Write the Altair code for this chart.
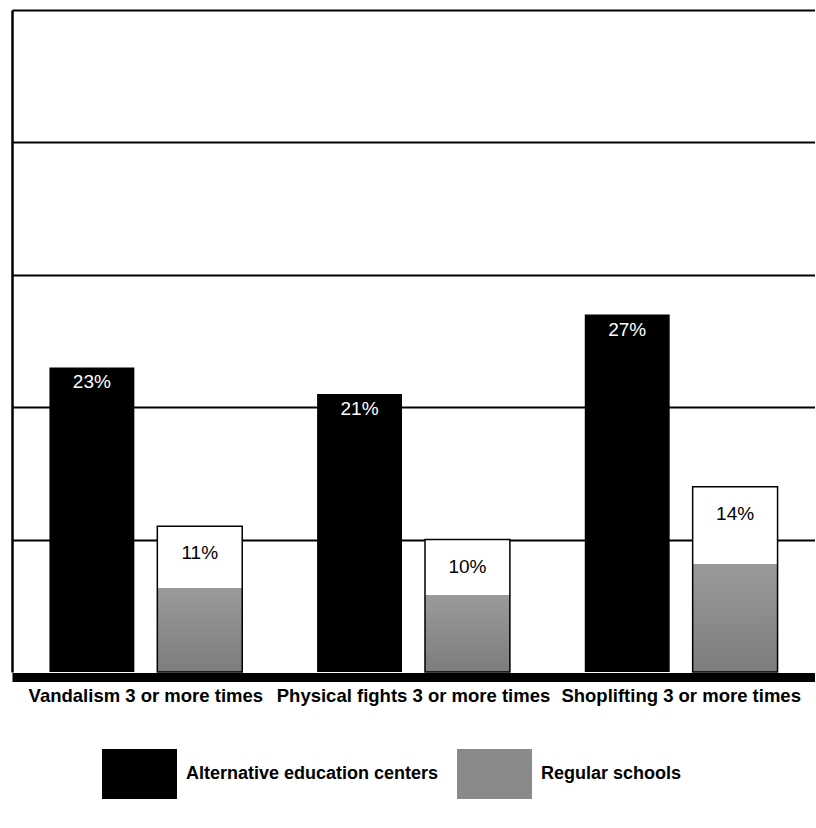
import altair as alt
import pandas as pd

categories = ["Vandalism 3 or more times", "Physical fights 3 or more times", "Shoplifting 3 or more times"]
series = ["Alternative education centers", "Regular schools"]
alt_values = [23, 21, 27]
reg_values = [11, 10, 14]

rows = []
for c, a, r in zip(categories, alt_values, reg_values):
    rows.append({"category": c, "series": series[0], "value": a, "label": f"{a}%"})
    rows.append({"category": c, "series": series[1], "value": r, "label": f"{r}%"})
df = pd.DataFrame(rows)

FONT = "Liberation Sans"

x_enc = alt.X("category:N", sort=categories, title=None,
              scale=alt.Scale(paddingInner=0, paddingOuter=0),
              axis=alt.Axis(labelAngle=0, ticks=False, domain=True, domainWidth=9,
                            domainColor="black", offset=5, labelPadding=9,
                            labelFont=FONT, labelFontSize=18.5, labelFontWeight="bold",
                            labelColor="black", labelLimit=0, labelOverlap=False))
xoff = alt.XOffset("series:N", sort=series,
                   scale=alt.Scale(domain=series, paddingInner=0.213, paddingOuter=0.347))
y_enc = alt.Y("value:Q", title=None,
              scale=alt.Scale(domain=[0, 50], nice=False, zero=True),
              axis=alt.Axis(values=[10, 20, 30, 40, 50], labels=False, ticks=False,
                            grid=True, gridColor="black", gridWidth=2, gridOpacity=1,
                            domain=True, domainColor="black", domainWidth=2.5))

base = alt.Chart(df)

bars = base.mark_bar().encode(
    x=x_enc, xOffset=xoff, y=y_enc,
    color=alt.Color("series:N", sort=series, title=None,
                    scale=alt.Scale(domain=series, range=["#000000", "#8a8a8a"]),
                    legend=alt.Legend(orient="none", legendX=102.5, legendY=739,
                                      direction="horizontal",
                                      symbolType="M-1.5,-1L1.5,-1L1.5,1L-1.5,1Z",
                                      symbolSize=2500, symbolStrokeWidth=0,
                                      labelOffset=21.5, columnPadding=18,
                                      labelFont=FONT, labelFontSize=18,
                                      labelFontWeight="bold", labelColor="black",
                                      labelLimit=0))
)

grad = {"gradient": "linear", "x1": 0, "x2": 0, "y1": 0, "y2": 1,
        "stops": [{"offset": 0, "color": "white"},
                  {"offset": 0.42, "color": "white"},
                  {"offset": 0.42, "color": "#9a9a9a"},
                  {"offset": 1, "color": "#7d7d7d"}]}

reg_bars = base.transform_filter(alt.datum.series == series[1]).mark_bar(
    fill=grad, stroke="black", strokeWidth=1.5
).encode(x=x_enc, xOffset=xoff, y=y_enc)

alt_text = base.transform_filter(alt.datum.series == series[0]).mark_text(
    baseline="top", dy=6, color="white", font=FONT, fontSize=19
).encode(x=x_enc, xOffset=xoff, y=y_enc, text="label:N")

reg_text = base.transform_filter(alt.datum.series == series[1]).mark_text(
    baseline="top", dy=18, color="black", font=FONT, fontSize=19
).encode(x=x_enc, xOffset=xoff, y=y_enc, text="label:N")

chart = alt.layer(bars, reg_bars, alt_text, reg_text).properties(
    width=803, height=662,
    padding={"left": 12, "top": 10, "right": 0, "bottom": 5},
    background="white"
).configure_view(stroke=None)

chart.save("out.html", embed_options={"renderer": "svg", "actions": False})
